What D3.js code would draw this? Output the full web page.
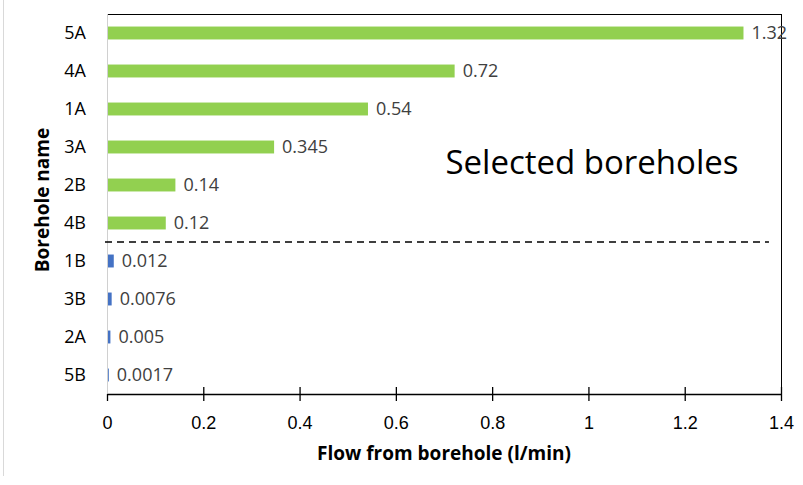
<!DOCTYPE html>
<html>
<head>
<meta charset="utf-8">
<script src="https://cdn.jsdelivr.net/npm/d3@7"></script>
<style>
  body { margin: 0; background: #fff; }
  svg { font-family: "Open Sans", "Noto Sans", sans-serif; }
</style>
</head>
<body>
<div class="chart"></div>
<script>
const boreholes = ["5A", "4A", "1A", "3A", "2B", "4B", "1B", "3B", "2A", "5B"];
const flows = [1.32, 0.72, 0.54, 0.345, 0.14, 0.12, 0.012, 0.0076, 0.005, 0.0017];
const labels = ["1.32", "0.72", "0.54", "0.345", "0.14", "0.12", "0.012", "0.0076", "0.005", "0.0017"];
const selected = ["5A", "4A", "1A", "3A", "2B", "4B"];
const xTicks = [0, 0.2, 0.4, 0.6, 0.8, 1, 1.2, 1.4];

const margin = { top: 14, right: 22, bottom: 91, left: 107 };
const width = 803 - margin.left - margin.right;
const height = 485 - margin.top - margin.bottom;

const root = d3.select('.chart')
  .append('svg')
  .attr('width', 803)
  .attr('height', 485);

// faint frame line on the far left
root.append('line')
  .attr('x1', 3.5).attr('x2', 3.5)
  .attr('y1', 0).attr('y2', 476)
  .attr('stroke', '#d9d9d9');

const svg = root.append('g')
  .attr('transform', `translate(${margin.left}, ${margin.top})`);

const xScale = d3.scaleLinear()
  .domain([0, 1.4])
  .range([0, width]);

const yScale = d3.scaleBand()
  .domain(boreholes)
  .range([0, height])
  .paddingInner(0.66)
  .paddingOuter(0.33);

// top and right frame
svg.append('line')
  .attr('x1', 0).attr('x2', width + 1)
  .attr('y1', 0.5).attr('y2', 0.5)
  .attr('stroke', '#000');
svg.append('line')
  .attr('x1', width + 0.5).attr('x2', width + 0.5)
  .attr('y1', 0).attr('y2', height)
  .attr('stroke', '#000');

// left axis line (light)
svg.append('line')
  .attr('x1', 0.5).attr('x2', 0.5)
  .attr('y1', 0).attr('y2', height)
  .attr('stroke', '#d0d0d0');

// bottom axis with cross ticks
const xAxis = d3.axisBottom(xScale)
  .tickValues(xTicks)
  .tickSizeInner(7)
  .tickSizeOuter(0)
  .tickPadding(15)
  .tickFormat(d3.format('~g'));

const gx = svg.append('g')
  .attr('transform', `translate(0, ${height})`)
  .call(xAxis);
gx.select('.domain').attr('stroke', '#000').attr('stroke-width', 1.3);
gx.selectAll('.tick line')
  .attr('y1', d => d === 0 ? 0 : -7)
  .attr('stroke', '#000')
  .attr('stroke-width', 1.3);
gx.selectAll('.tick text')
  .attr('fill', '#000')
  .style('font-size', '18px');

// category labels
svg.selectAll('.cat')
  .data(boreholes)
  .enter()
  .append('text')
  .attr('class', 'cat')
  .attr('x', -21)
  .attr('y', d => yScale(d) + yScale.bandwidth() / 2)
  .attr('dy', '0.35em')
  .attr('text-anchor', 'end')
  .style('font-size', '18px')
  .attr('fill', '#000')
  .text(d => d);

// bars
svg.selectAll('.bar')
  .data(boreholes)
  .enter()
  .append('rect')
  .attr('class', 'bar')
  .attr('x', 1)
  .attr('y', d => yScale(d))
  .attr('width', (d, i) => xScale(flows[i]))
  .attr('height', yScale.bandwidth())
  .attr('fill', d => selected.includes(d) ? '#92d050' : '#4472c4');

// value labels
svg.selectAll('.val')
  .data(boreholes)
  .enter()
  .append('text')
  .attr('class', 'val')
  .attr('x', (d, i) => xScale(flows[i]) + 9)
  .attr('y', d => yScale(d) + yScale.bandwidth() / 2)
  .attr('dy', '0.35em')
  .style('font-size', '18px')
  .attr('fill', '#404040')
  .text((d, i) => labels[i]);

// dashed separator between selected and others
const sepY = (yScale('4B') + yScale.bandwidth() + yScale('1B')) / 2;
svg.append('line')
  .attr('x1', -2).attr('x2', xScale(1.375))
  .attr('y1', sepY).attr('y2', sepY)
  .attr('stroke', '#000')
  .attr('stroke-width', 1.5)
  .attr('stroke-dasharray', '7,5');

svg.append('text')
  .attr('x', xScale(0.703))
  .attr('y', 160)
  .style('font-size', '33px')
  .attr('fill', '#000')
  .text('Selected boreholes');

// axis titles
svg.append('text')
  .attr('x', width / 2)
  .attr('y', height + 66)
  .attr('text-anchor', 'middle')
  .style('font-size', '19px')
  .style('font-weight', 'bold')
  .text('Flow from borehole (l/min)');

svg.append('text')
  .attr('transform', 'translate(-58, 186) rotate(-90)')
  .attr('text-anchor', 'middle')
  .style('font-size', '19px')
  .style('font-weight', 'bold')
  .text('Borehole name');
</script>
</body>
</html>
